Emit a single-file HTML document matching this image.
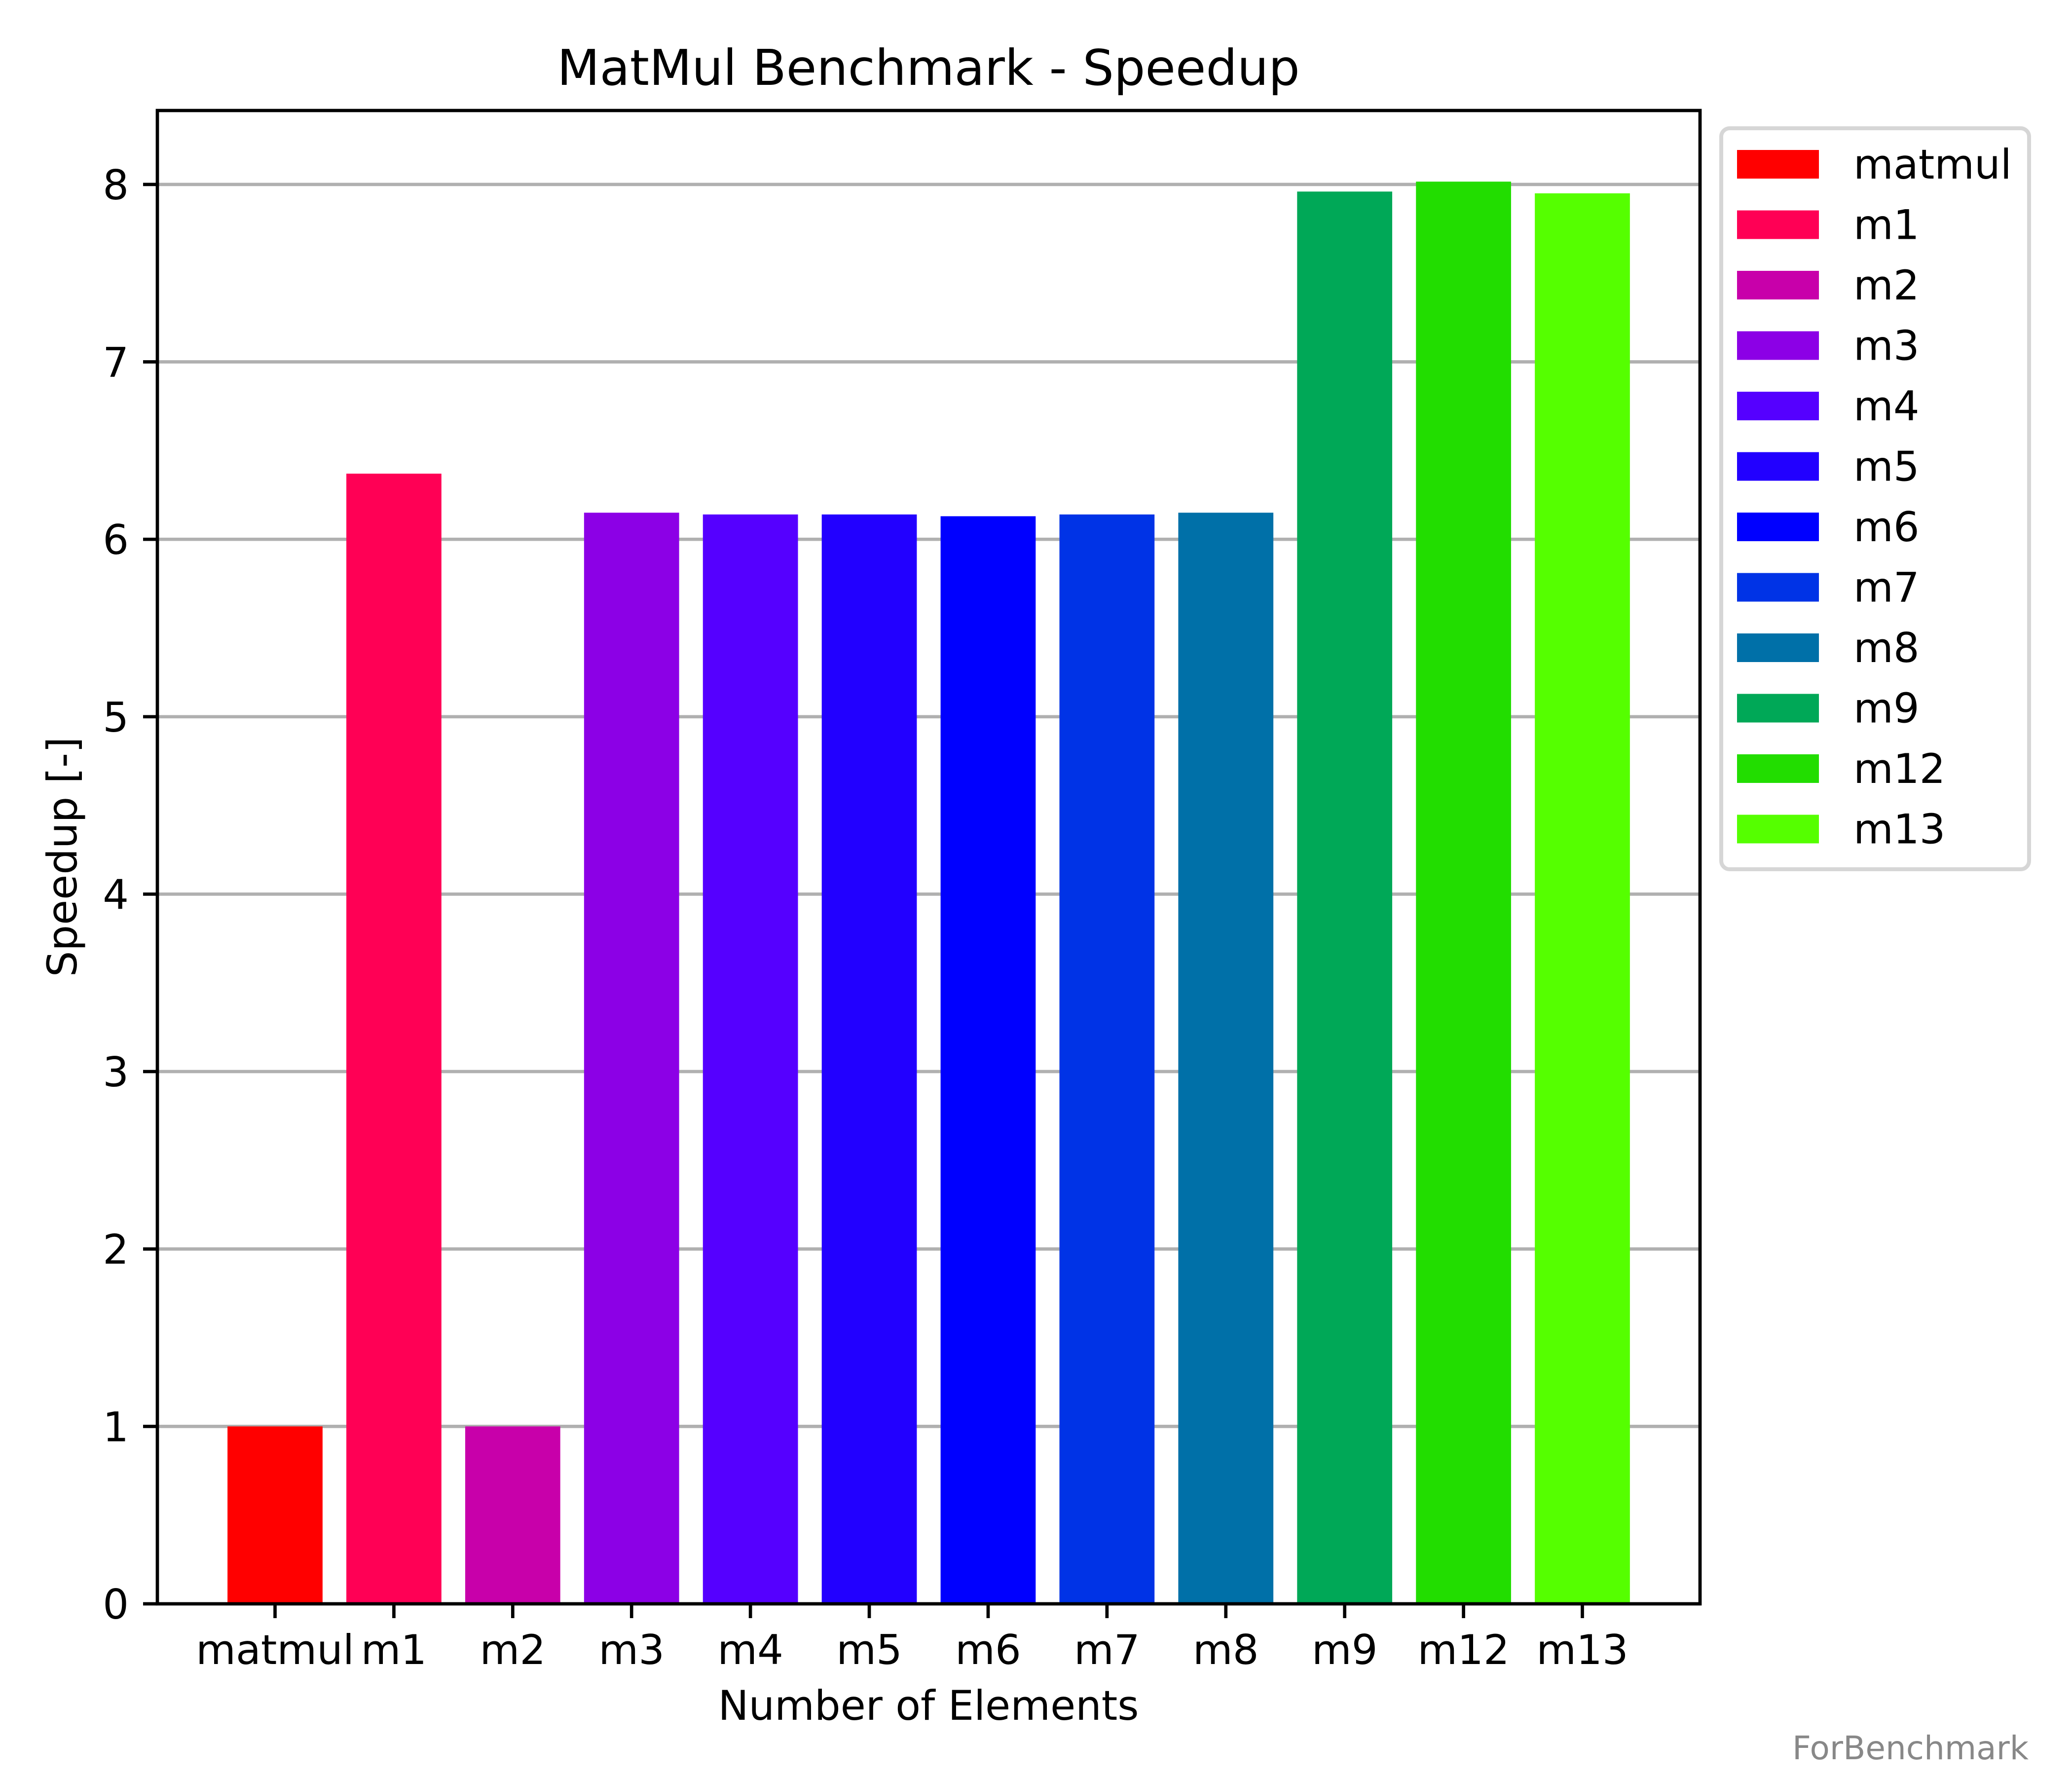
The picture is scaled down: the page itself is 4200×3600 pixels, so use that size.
<!DOCTYPE html>
<html><head><meta charset="utf-8"><style>
html,body{margin:0;padding:0;background:#fff}
svg{display:block}
text{font-family:"DejaVu Sans","Liberation Sans",sans-serif}
</style></head><body>
<svg id="chart" width="4200" height="3600" viewBox="0 0 4200 3600" xmlns="http://www.w3.org/2000/svg">
<rect width="4200" height="3600" fill="#fff"/>
<g id="grid"></g>
<g id="bars"></g>
<g id="axes"></g>
<text x="1882" y="172" font-size="100" text-anchor="middle">MatMul Benchmark - Speedup</text>
<text x="1882" y="3486" font-size="83" text-anchor="middle">Number of Elements</text>
<text x="0" y="0" font-size="83" text-anchor="middle" transform="translate(155,1737) rotate(-90)">Speedup [-]</text>
<g id="legend"></g>
<text x="4112" y="3566" font-size="66" fill="#888" text-anchor="end">ForBenchmark</text>
</svg>
<script>
const categories = ["matmul","m1","m2","m3","m4","m5","m6","m7","m8","m9","m12","m13"];
const speedups = [1.0, 6.37, 1.0, 6.15, 6.14, 6.14, 6.13, 6.14, 6.15, 7.96, 8.016, 7.95];
const colors = ["#ff0000","#ff0055","#c800aa","#8c00e6","#5500ff","#2200ff","#0000ff","#0033e6","#0070a8","#00a857","#22dd00","#55ff00"];
const yTicks = [0,1,2,3,4,5,6,7,8];

const NS = "http://www.w3.org/2000/svg";
const L = 319, R = 3446, T = 224, B = 3251;
const n = categories.length;
const xMin = -0.4 - 0.05 * (n - 0.2), xMax = (n - 1) + 0.4 + 0.05 * (n - 0.2);
const yMax = Math.max(...speedups) * 1.05;
function xs(v){ return L + (v - xMin) / (xMax - xMin) * (R - L); }
function ys(v){ return B - v / yMax * (B - T); }
const bw = xs(0.8) - xs(0);
function mk(tag, attrs, parent){ const e = document.createElementNS(NS, tag); for (const k in attrs) e.setAttribute(k, attrs[k]); parent.appendChild(e); return e; }

const grid = document.getElementById('grid');
const bars = document.getElementById('bars');
const axes = document.getElementById('axes');
const legend = document.getElementById('legend');

yTicks.forEach(t => {
  const y = ys(t);
  const g = mk('line', {x1:L, x2:R, y1:y, y2:y, stroke:'#b0b0b0', 'stroke-width':6.7}, grid);
  
  
  const tk = mk('line', {x1:L-29, x2:L, y1:y, y2:y, stroke:'#000', 'stroke-width':6.7}, axes);
  
  
  const lb = mk('text', {x:L-58, y:y+30, 'font-size':83, 'text-anchor':'end'}, axes);
  lb.textContent = t;
  
  
});

categories.forEach((c, i) => {
  const x = xs(i);
  const b = mk('rect', {x:x - bw/2, y:ys(speedups[i]), width:bw, height:ys(0) - ys(speedups[i]), fill:colors[i]}, bars);
  
  
  const tk = mk('line', {x1:x, x2:x, y1:B, y2:B+29, stroke:'#000', 'stroke-width':6.7}, axes);
  
  
  const lb = mk('text', {x:x, y:3373, 'font-size':83, 'text-anchor':'middle'}, axes);
  lb.textContent = c;
  
  
});

const frame = mk('rect', {x:L, y:T, width:R-L, height:B-T, fill:'none', stroke:'#000', 'stroke-width':6.7}, axes);



const lbox = mk('rect', {x:3489, y:260, width:624, height:1502, rx:17, fill:'#fff', stroke:'#d6d6d6', 'stroke-width':8}, legend);


categories.forEach((c, i) => {
  const cy = 333 + i * 122.5;
  const p = mk('rect', {x:3521, y:cy - 29, width:166, height:58, fill:colors[i]}, legend);
  
  
  const t = mk('text', {x:3757, y:cy + 29, 'font-size':83}, legend);
  t.textContent = c;
  
  
});
</script>
</body></html>
